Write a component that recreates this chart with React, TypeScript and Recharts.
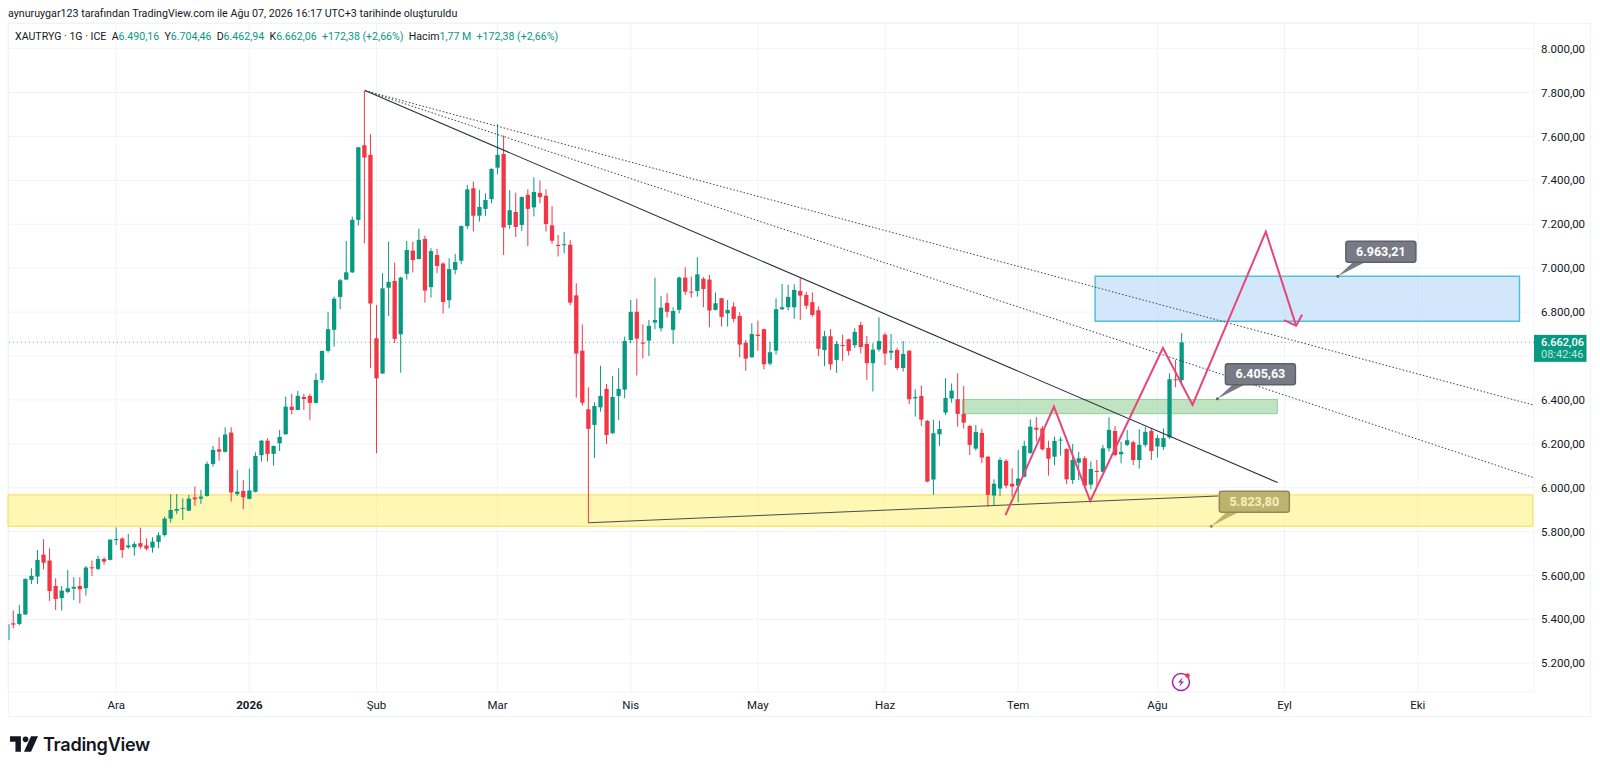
import { ComposedChart, Bar, Line, XAxis, YAxis, CartesianGrid, ReferenceArea, ReferenceLine, ReferenceDot } from "recharts";

const GREEN = "#089981";
const RED = "#f23645";
const PINK = "#e8457a";

// daily candles (index 0 = first full candle on the left)
const opens = [
  5382,5379,5422,5580,5595,5695,5668,5552,5497,5525,
  5540,5552,5542,5637,5630,5675,5671,5762,5768,5728,
  5728,5747,5737,5727,5753,5784,5859,5895,5904,5895,
  5955,5950,5962,6108,6175,6163,6251,5971,5985,5949,
  5981,6148,6214,6154,6202,6243,6369,6354,6413,6418,
  6386,6491,6623,6719,6869,6948,6981,7220,7560,7516,
  6681,6520,6911,6942,6699,6974,7080,7042,7133,6914,
  7060,7021,6854,6992,7034,7192,7364,7239,7270,7315,
  7458,7520,7197,7256,7197,7334,7277,7343,7330,7195,
  7106,7104,7107,6876,6624,6357,6286,6366,6450,6248,
  6418,6447,6673,6801,6661,6670,6752,6726,6842,6719,
  6810,6957,6893,6896,6952,6948,6810,6863,6794,6825,
  6782,6661,6594,6697,6722,6565,6624,6813,6822,6822,
  6896,6878,6845,6808,6627,6690,6582,6650,6676,6649,
  6741,6655,6567,6629,6697,6615,6627,6545,6624,6407,
  6418,6304,6037,6243,6342,6406,6403,6336,6281,6178,
  6249,6141,5964,5996,6122,6018,6009,6050,6158,6273,
  6270,6181,6141,6216,6176,6035,6114,6134,6014,6076,
  6072,6179,6258,6152,6195,6207,6126,6195,6258,6188,
  6185,6229,6494,6490.16,
];
const highs = [
  5440,5466,5587,5633,5716,5765,5724,5587,5552,5625,
  5592,5592,5643,5668,5690,5683,5765,5819,5774,5789,
  5754,5818,5769,5774,5797,5868,5971,5971,5951,5967,
  6005,5990,6119,6190,6230,6275,6275,6081,6035,6087,
  6161,6217,6225,6192,6263,6415,6427,6441,6427,6427,
  6521,6624,6801,6870,6951,7124,7235,7552,7809,7610,
  6832,6977,7121,7025,6961,7124,7121,7180,7148,7091,
  7088,7027,7045,7065,7194,7379,7394,7356,7341,7455,
  7657,7604,7355,7344,7326,7359,7414,7399,7359,7283,
  7151,7165,7129,6931,6744,6457,6389,6556,6473,6509,
  6544,6688,6855,6860,6744,6764,6957,6873,6886,6822,
  6962,7004,6962,7050,6959,6969,6889,6865,6855,6845,
  6799,6673,6749,6761,6725,6665,6863,6928,6924,6927,
  6954,6893,6890,6825,6714,6722,6668,6697,6679,6726,
  6756,6691,6658,6776,6706,6700,6638,6668,6626,6448,
  6465,6308,6308,6305,6498,6475,6521,6463,6286,6286,
  6269,6144,6038,6138,6129,6088,6172,6214,6311,6321,
  6281,6214,6232,6232,6179,6199,6163,6144,6119,6126,
  6195,6321,6281,6210,6263,6214,6266,6278,6270,6240,
  6270,6521,6582,6704.46,
];
const lows = [
  5359,5373,5420,5561,5561,5628,5484,5443,5440,5519,
  5488,5473,5508,5598,5625,5649,5668,5739,5680,5721,
  5690,5721,5713,5704,5724,5777,5841,5880,5853,5894,
  5917,5926,5959,6096,6123,6160,5937,5962,5902,5947,
  5978,6119,6119,6100,6167,6242,6334,6353,6354,6309,
  6384,6476,6615,6643,6813,6946,6978,7194,7113,6544,
  6157,6518,6782,6658,6524,6948,6981,7040,6843,6866,
  6977,6793,6817,6972,7018,7179,7167,7212,7238,7296,
  7428,7060,7179,7142,7170,7101,7236,7296,7167,7112,
  7053,7068,6831,6410,6374,5840,6135,6346,6199,6245,
  6308,6407,6658,6511,6589,6600,6722,6711,6775,6655,
  6794,6878,6866,6870,6822,6731,6807,6734,6734,6753,
  6594,6532,6592,6624,6539,6557,6606,6810,6807,6769,
  6764,6814,6779,6600,6554,6536,6523,6577,6602,6636,
  6612,6491,6438,6620,6558,6582,6536,6529,6381,6324,
  6281,6024,5967,6190,6331,6387,6278,6270,6149,6169,
  6111,5914,5921,5962,5997,5959,5933,6047,6154,6211,
  6169,6055,6102,6146,6017,6017,6035,5997,5993,6009,
  6069,6164,6144,6111,6190,6103,6087,6184,6126,6138,
  6172,6222,6458,6462.94,
];
const closes = [
  5376,5425,5584,5598,5671,5658,5529,5493,5531,5542,
  5548,5537,5636,5634,5675,5663,5763,5766,5716,5737,
  5743,5731,5722,5754,5783,5859,5898,5903,5908,5950,
  5947,5959,6108,6172,6164,6242,5978,5982,5956,5987,
  6144,6214,6154,6190,6231,6369,6354,6418,6404,6386,
  6491,6623,6722,6861,6945,6981,7220,7551,7504,6839,
  6498,6908,6937,6678,6957,7083,7037,7129,6898,7078,
  7010,6846,6996,7028,7192,7359,7239,7279,7311,7452,
  7516,7185,7264,7188,7324,7270,7347,7324,7201,7125,
  7101,7109,6843,6611,6387,6268,6372,6418,6240,6413,
  6450,6668,6801,6679,6656,6737,6764,6820,6801,6805,
  6957,6893,6889,6972,6905,6807,6840,6778,6810,6769,
  6652,6588,6700,6691,6562,6617,6813,6822,6869,6901,
  6875,6829,6787,6633,6690,6562,6655,6646,6623,6709,
  6641,6567,6629,6668,6611,6624,6545,6609,6403,6413,
  6310,6028,6248,6267,6409,6442,6336,6296,6195,6254,
  6137,5967,6018,6126,6009,6005,6041,6190,6278,6264,
  6175,6132,6213,6219,6038,6126,6134,6009,6085,6072,
  6179,6263,6149,6163,6216,6126,6195,6254,6167,6226,
  6226,6494,6490,6662.06,
];

// the half-cut candle on the left edge, only its wick shows
const edgeCandle = { idx: -0.7, open: 5342, high: 5378, low: 5305, close: 5342 };

const monthTicks = [17, 39, 60, 80, 102, 123, 144, 166, 189, 210, 232];
const monthLabels = ["Ara", "2026", "Şub", "Mar", "Nis", "May", "Haz", "Tem", "Ağu", "Eyl", "Eki"];
const priceTicks = [5200, 5400, 5600, 5800, 6000, 6200, 6400, 6600, 6800, 7000, 7200, 7400, 7600, 7800, 8000];

// drawings, in [bar index, price]
const mainTrend = [[58.1, 7809], [208.85, 6023]];
const supportTrend = [[95, 5840], [199, 5962]];
const fanUpper = [[58.1, 7809], [251, 6377]];
const fanLower = [[58.1, 7809], [251, 6047]];
const pinkPath = [
  { idx: 163.9, price: 5875 },
  { idx: 171.9, price: 6369 },
  { idx: 177.9, price: 5939 },
  { idx: 189.9, price: 6636 },
  { idx: 194.8, price: 6377 },
  { idx: 206.9, price: 7166 },
  { idx: 211.9, price: 6738 },
];
const pinkArrow = [
  { idx: 209.9, price: 6763 },
  { idx: 211.9, price: 6738 },
  { idx: 212.9, price: 6788 },
];

const lastPrice = 6662.06;

const candles = [
  edgeCandle,
  ...opens.map((o, i) => ({ idx: i, open: o, high: highs[i], low: lows[i], close: closes[i] })),
];

const fmtPrice = (v: number) =>
  v.toFixed(2).replace(".", ",").replace(/\B(?=(\d{3})(?!\d))/g, ".");

const BODY_W = 4.3;

function Candle(props: any) {
  const { x, y, width, height, payload } = props;
  if (!payload) return null;
  const { open, high, low, close } = payload;
  const top = Math.min(y, y + height);
  const h = Math.abs(height);
  const k = h / (high - low || 1);
  const bodyTop = top + (high - Math.max(open, close)) * k;
  const bodyH = Math.max(Math.abs(open - close) * k, 1);
  const color = close >= open ? GREEN : RED;
  const cx = x + (width || 0) / 2;
  return (
    <g>
      <line x1={cx} x2={cx} y1={top} y2={top + h} stroke={color} strokeWidth={1} />
      {open !== close && <rect x={cx - BODY_W / 2} y={bodyTop} width={BODY_W} height={bodyH} fill={color} />}
    </g>
  );
}

function Callout(props: any) {
  const { cx, cy, dx, dy, text, bg, edge, color } = props;
  const w = 70;
  const h = 21;
  const bx = cx + dx;
  const by = cy + dy;
  return (
    <g>
      <polygon points={`${cx},${cy} ${bx + 7},${by + h} ${bx + 19},${by + h}`} fill={bg} />
      <circle cx={cx} cy={cy} r={1.5} fill={edge} />
      <rect x={bx} y={by} width={w} height={h} rx={2.5} fill={bg} stroke={edge} strokeWidth={1.5} />
      <text x={bx + w / 2} y={by + 14.5} textAnchor="middle" fontFamily="Roboto" fontWeight={700} fontSize={12.5} fill={color}>
        {text}
      </text>
    </g>
  );
}

function PriceTag(props: any) {
  const { cx, cy } = props;
  return (
    <g>
      <rect x={cx} y={cy - 7.5} width={52.5} height={27} fill={GREEN} />
      <text x={cx + 7} y={cy + 4} fontFamily="Roboto" fontWeight={500} fontSize={11} fill="#fff">
        {fmtPrice(lastPrice)}
      </text>
      <text x={cx + 7} y={cy + 16} fontFamily="Roboto" fontSize={11} fill="#bfe6de">
        08:42:46
      </text>
    </g>
  );
}

function MonthTick(props: any) {
  const { x, y, payload } = props;
  const label = monthLabels[monthTicks.indexOf(payload.value)];
  return (
    <text x={x} y={y + 9} textAnchor="middle" fontFamily="Roboto" fontSize={11.5} fontWeight={label === "2026" ? 700 : 400} fill="#131722">
      {label}
    </text>
  );
}

const segment = (pts: number[][]) => pts.map(([x, y]) => ({ x, y }));

export default function App() {
  return (
    <div style={{ position: "absolute", left: 0, top: 0, width: 1600, height: 770, background: "#fff", overflow: "hidden" }}>
      <div style={{ position: "absolute", left: 8, top: 23, width: 1583, height: 694, border: "1px solid #f0f3fa", boxSizing: "border-box" }} />
      <ComposedChart
        width={1600}
        height={770}
        data={candles}
        margin={{ top: 23, right: 8, bottom: 53, left: 8 }}
        style={{ position: "absolute", left: 0, top: 0 }}
      >
        <CartesianGrid stroke="#f0f3fa" strokeWidth={1} />
        <XAxis
          dataKey="idx"
          type="number"
          domain={[-0.875, 251.2]}
          ticks={monthTicks}
          interval={0}
          height={25}
          axisLine={false}
          tickLine={false}
          tick={<MonthTick />}
        />
        <YAxis
          orientation="right"
          domain={[5069, 8117]}
          ticks={priceTicks}
          interval={0}
          width={58}
          axisLine={false}
          tickLine={false}
          tickSize={0}
          tickMargin={7}
          tickFormatter={(v: number) => (v === 6600 ? "" : fmtPrice(v))}
          tick={{ fontFamily: "Roboto", fontSize: 11.5, fill: "#131722" }}
        />
        <ReferenceArea x1={-0.875} x2={251} y1={5824} y2={5967} fill="#fff176" fillOpacity={0.55} stroke="#fdd835" strokeOpacity={0.9} />
        <ReferenceArea x1={178.7} x2={248.8} y1={6758} y2={6963} fill="#bbdaf9" fillOpacity={0.65} stroke="#4dc4d6" strokeWidth={1.5} />
        <ReferenceArea x1={156.8} x2={208.8} y1={6337} y2={6402} fill="#81c784" fillOpacity={0.5} stroke="#81c784" strokeOpacity={0.8} />
        <ReferenceLine y={lastPrice} stroke={GREEN} strokeOpacity={0.7} strokeDasharray="1 3" />
        <Bar dataKey={(d: any) => [d.low, d.high]} barSize={4} shape={<Candle />} isAnimationActive={false} />
        <ReferenceLine segment={segment(mainTrend)} stroke="#2a2e39" strokeWidth={1.1} />
        <ReferenceLine segment={segment(supportTrend)} stroke="#2a2e39" strokeOpacity={0.85} strokeWidth={1} />
        <ReferenceLine segment={segment(fanUpper)} stroke="#3a3e49" strokeWidth={1} strokeDasharray="1.5 2" />
        <ReferenceLine segment={segment(fanLower)} stroke="#3a3e49" strokeWidth={1} strokeDasharray="1.5 2" />
        <Line data={pinkPath} dataKey="price" type="linear" stroke={PINK} strokeWidth={2} dot={false} isAnimationActive={false} />
        <Line data={pinkArrow} dataKey="price" type="linear" stroke={PINK} strokeWidth={2} dot={false} isAnimationActive={false} />
        <ReferenceDot
          x={218.8}
          y={6963.21}
          ifOverflow="visible"
          shape={<Callout dx={8} dy={-35} text="6.963,21" bg="#787b86" edge="#5d606b" color="#fff" />}
        />
        <ReferenceDot
          x={198.9}
          y={6405.63}
          ifOverflow="visible"
          shape={<Callout dx={8} dy={-35} text="6.405,63" bg="#787b86" edge="#5d606b" color="#fff" />}
        />
        <ReferenceDot
          x={197.9}
          y={5823.8}
          ifOverflow="visible"
          shape={<Callout dx={8} dy={-35} text="5.823,80" bg="#bdb36e" edge="#8f8a5c" color="#f6f0bd" />}
        />
        <ReferenceDot x={251.2} y={lastPrice} ifOverflow="visible" shape={<PriceTag />} />
      </ComposedChart>

      <div style={{ position: "absolute", left: 8, top: 7, font: "10.7px Roboto", color: "#131722", whiteSpace: "pre" }}>
        aynuruygar123 tarafından TradingView.com ile Ağu 07, 2026 16:17 UTC+3 tarihinde oluşturuldu
      </div>
      <div style={{ position: "absolute", left: 15, top: 30, font: "10.6px Roboto", color: "#131722", whiteSpace: "pre" }}>
        {"XAUTRYG · 1G · ICE  A"}
        <span style={{ color: GREEN }}>6.490,16</span>
        {"  Y"}
        <span style={{ color: GREEN }}>6.704,46</span>
        {"  D"}
        <span style={{ color: GREEN }}>6.462,94</span>
        {"  K"}
        <span style={{ color: GREEN }}>6.662,06  +172,38 (+2,66%)</span>
        {"  Hacim"}
        <span style={{ color: GREEN }}>1,77 M  +172,38 (+2,66%)</span>
      </div>

      <svg width={28} height={16} viewBox="0 0 36 20" style={{ position: "absolute", left: 10, top: 736 }}>
        <path d="M0 0h14v20H7V7H0z" fill="#131722" />
        <circle cx={20} cy={4} r={3.6} fill="#131722" />
        <path d="M27 0h9l-9 20h-9z" fill="#131722" />
      </svg>
      <div style={{ position: "absolute", left: 43, top: 733, font: "600 18.1px Inter", color: "#131722", letterSpacing: -0.3 }}>TradingView</div>

      <svg width={24} height={24} viewBox="0 0 24 24" style={{ position: "absolute", left: 1169, top: 670 }}>
        <circle cx={12} cy={12} r={8.5} fill="#fff" stroke="#9c27b0" strokeWidth={1.5} />
        <path d="M14 7l-5 5.5h3L10 17l5-5.5h-3z" fill="#9c27b0" />
        <circle cx={18.5} cy={5.5} r={2.3} fill="#f23645" />
      </svg>
    </div>
  );
}
